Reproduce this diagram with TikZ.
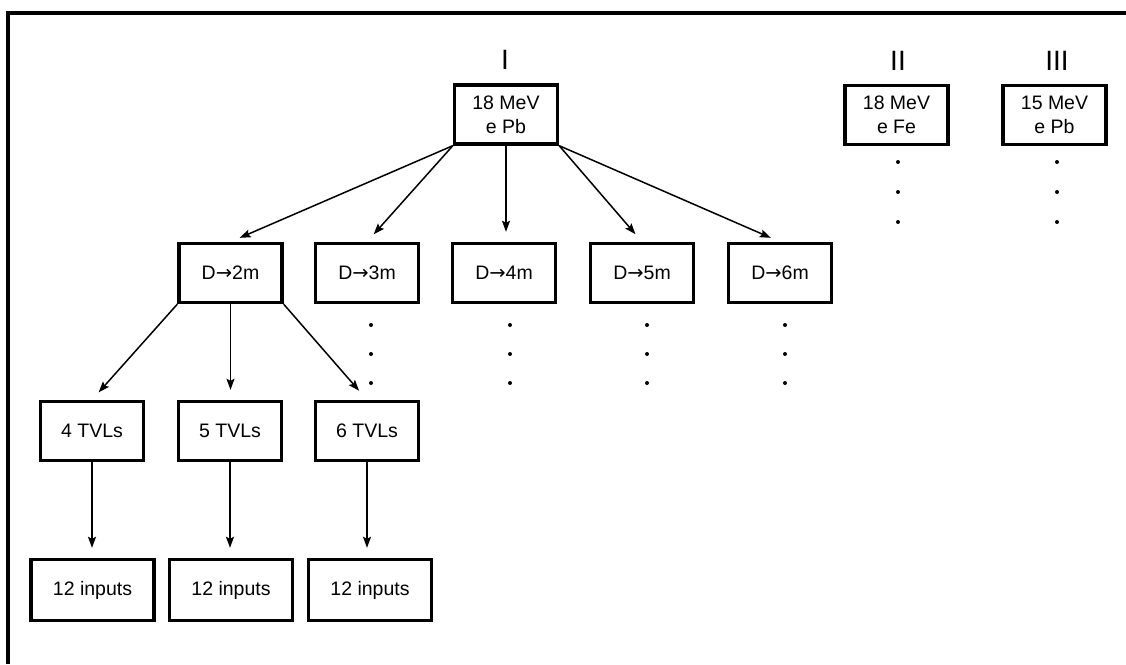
\documentclass[tikz,border=0pt]{standalone}
\usepackage{fontspec}
\setmainfont{Liberation Sans}
\newfontfamily\arrowfont{DejaVu Sans}
\usetikzlibrary{shapes,arrows.meta,positioning,calc}

\newcommand{\arr}{{\arrowfont\symbol{"2192}}}

\tikzset{
  box/.style={draw, line width=3.4pt, minimum width=103pt, minimum height=59pt, align=center, font=\fontsize{19.5}{24}\selectfont, inner sep=2pt},
  inbox/.style={box, minimum width=123pt, minimum height=61pt},
  case/.style={font=\fontsize{28}{30}\selectfont},
  link/.style={->, line width=1.5pt, >={Stealth[length=11pt,width=8pt,inset=2pt]}, shorten >=10pt}
}

\begin{document}
\begin{tikzpicture}[x=1pt, y=-1pt]
\useasboundingbox (0,0) rectangle (1126,664);
% Rahmen
\draw[line width=4pt] (8,664) -- (8,13) -- (1126,13);

% Faelle
\node[case] (caseI) at (505,60) {I};
\node[case] (caseII) at (898,61) {II};
\node[case] (caseIII) at (1057,61) {III};
\node[box] (ePb) at (506,114.5) {18 MeV\\e Pb};
\node[box] (eFe) at (896.5,115) {18 MeV\\e Fe};
\node[box] (ePbl) at (1054.5,115) {15 MeV\\e Pb};

% Abstaende
\node[box] (d2) at (230.5,273) {D\arr2m};
\node[box] (d3) at (367,273) {D\arr3m};
\node[box] (d4) at (504,273) {D\arr4m};
\node[box] (d5) at (642,273) {D\arr5m};
\node[box] (d6) at (780,273) {D\arr6m};

% TVLs
\node[box] (t4) at (92,431) {4 TVLs};
\node[box] (t5) at (230,431) {5 TVLs};
\node[box] (t6) at (367,431) {6 TVLs};

% Eingaenge
\node[inbox] (in4) at (92.5,590) {12 inputs};
\node[inbox] (in5) at (231,590) {12 inputs};
\node[inbox] (in6) at (370,590) {12 inputs};

% Verbindungen
\draw[link] (ePb.south west) -- (d2.north);
\draw[link] (ePb.south west) -- (d3.north);
\draw[link] (ePb.south) -- (ePb.south |- d4.north);
\draw[link] (ePb.south east) -- (d5.north);
\draw[link] (ePb.south east) -- (d6.north);
\draw[link] (d2.south west) -- (t4.north);
\draw[link] (d2.south) -- (d2.south |- t5.north);
\draw[link, shorten >=12pt] (d2.south east) -- (t6.north);
\draw[link] (t4.south) -- (t4.south |- in4.north);
\draw[link] (t5.south) -- (t5.south |- in5.north);
\draw[link] (t6.south) -- (t6.south |- in6.north);

% Punkte
\foreach \x in {371,510,647,785}
  \foreach \y in {325,354,383}
    \fill (\x,\y) circle (2pt);
\foreach \x in {898,1057}
  \foreach \y in {162,192,222}
    \fill (\x,\y) circle (2pt);
\end{tikzpicture}
\end{document}
